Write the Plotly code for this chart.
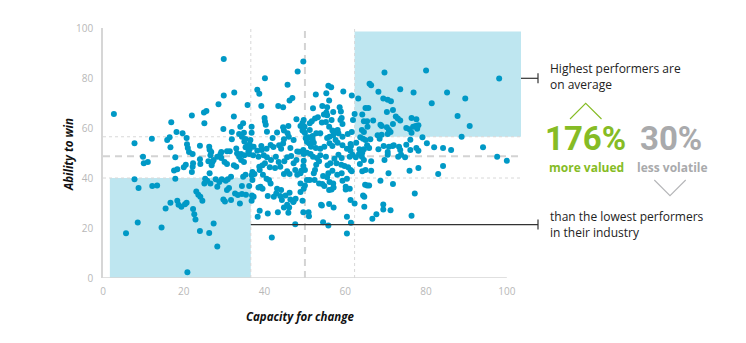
import plotly.graph_objects as go

# (capacity for change, ability to win) per company, grouped by zone of the chart
left_upper = [
    (2.7, 65.6), (7.8, 53.9), (12.1, 55.7), (29.9, 87.6), (29.9, 73.0), (32.5, 74.2), (28.6, 69.5),
    (22.0, 65.0), (25.6, 66.8), (25.0, 66.2), (25.1, 61.9), (16.9, 62.3), (18.2, 58.4), (19.7, 57.9),
    (20.7, 56.0), (15.9, 55.2), (16.5, 56.3), (16.7, 52.3), (20.8, 53.5), (21.0, 52.0), (24.0, 52.9),
    (26.3, 52.5), (26.4, 51.3), (29.8, 59.6), (32.4, 64.6), (35.8, 69.2), (34.0, 60.5), (34.7, 61.9),
    (31.9, 58.4), (33.7, 57.6), (34.9, 58.1), (34.4, 56.5), (35.3, 55.6), (35.0, 54.6), (35.7, 52.8),
    (36.3, 53.5), (36.5, 55.2), (31.9, 55.5), (36.3, 51.5), (35.3, 52.3), (33.0, 51.8),
]

left_lower = [
    (21.3, 50.4), (22.2, 49.6), (26.8, 50.4), (26.6, 49.1), (29.3, 50.4), (30.7, 50.7), (31.4, 50.7),
    (29.1, 49.6), (28.3, 48.5), (29.3, 48.0), (27.4, 47.2), (27.1, 46.4), (26.1, 46.7), (24.0, 47.5),
    (24.1, 45.6), (22.3, 45.9), (22.2, 44.5), (20.0, 44.3), (18.4, 43.5), (17.6, 43.0), (33.2, 49.9),
    (34.2, 49.6), (35.0, 49.1), (36.2, 49.6), (34.2, 47.2), (34.9, 46.4), (33.0, 44.5), (30.1, 46.4),
    (30.7, 45.6), (17.9, 48.3), (36.0, 50.5),
    (5.7, 17.9), (8.6, 22.2), (7.8, 39.5), (8.8, 36.0), (9.9, 48.5), (10.1, 45.9), (11.1, 46.4),
    (12.2, 36.8), (13.4, 37.0), (14.5, 20.2), (15.5, 27.8), (16.7, 30.1), (17.9, 39.7), (18.4, 30.9),
    (18.7, 29.3), (19.4, 28.5), (20.3, 29.5), (20.7, 30.1), (22.3, 27.6), (22.6, 25.5), (22.9, 23.4),
    (23.1, 34.6), (23.6, 33.3), (24.1, 32.5), (24.6, 30.9), (24.0, 18.8), (20.9, 2.3), (26.3, 18.0),
    (27.4, 21.8), (28.3, 12.6), (20.5, 45.3), (22.0, 42.4), (25.3, 39.7), (25.8, 38.9), (25.1, 37.8),
    (26.6, 37.8), (26.4, 41.9), (26.9, 45.1), (27.9, 39.5), (28.3, 36.5), (28.8, 38.4), (29.4, 39.5),
    (30.4, 38.9), (30.9, 39.5), (29.8, 31.4), (30.2, 30.6), (31.7, 31.2), (30.7, 35.2), (31.2, 36.0),
    (33.9, 29.8), (32.7, 33.8), (33.4, 33.2), (34.4, 33.6), (35.4, 33.3), (32.4, 45.1), (33.7, 48.5),
    (31.7, 40.5), (34.7, 40.5), (35.3, 41.3), (34.4, 36.8), (36.2, 36.8),
]

mid_upper = [
    (38.2, 75.3), (38.7, 73.7), (39.2, 68.8), (40.1, 79.9), (40.0, 64.0), (40.1, 62.6), (40.3, 61.3),
    (40.6, 58.5), (43.4, 68.8), (44.6, 68.3), (45.7, 77.3), (46.2, 71.0), (46.9, 72.0), (48.2, 82.6),
    (49.6, 86.6), (44.6, 60.3), (45.9, 60.8), (45.7, 57.9), (47.9, 63.5), (48.9, 60.8), (49.4, 62.0),
    (49.7, 63.2), (50.2, 55.9), (50.5, 54.5), (47.2, 55.2), (46.4, 52.0), (48.6, 50.5), (41.5, 53.2),
    (43.6, 53.1), (39.2, 52.8), (39.3, 51.2), (37.3, 52.5), (36.8, 60.5), (36.8, 58.1), (44.8, 59.0),
    (49.9, 60.5), (49.4, 59.0), (43.1, 58.2), (49.7, 58.7), (40.5, 51.7), (42.2, 52.4), (44.1, 51.7),
    (44.6, 53.8), (44.8, 55.5), (49.6, 51.2), (38.2, 50.9), (48.1, 50.6), (46.0, 56.5), (42.0, 56.0),
]

centre_upper = [
    (52.7, 73.4), (55.3, 73.9), (55.8, 76.9), (56.5, 76.3), (56.0, 71.0), (59.5, 74.6), (61.6, 73.0),
    (52.0, 67.9), (54.3, 68.8), (55.5, 68.3), (58.6, 68.3), (58.9, 66.6), (57.0, 66.4), (54.7, 65.4),
    (55.5, 65.1), (52.5, 63.8), (53.2, 64.3), (51.7, 62.7), (51.2, 61.9), (56.6, 63.2), (58.8, 63.2),
    (59.1, 64.0), (61.9, 63.2), (50.0, 58.0), (61.3, 53.6), (61.4, 52.8), (55.3, 66.2), (59.3, 61.6),
    (54.2, 62.2), (55.2, 62.4), (56.0, 60.5), (56.8, 59.0), (57.6, 58.7), (58.3, 57.9), (58.1, 59.2),
    (51.9, 56.8), (52.8, 57.9), (53.8, 57.9), (50.9, 56.3), (51.2, 59.2), (56.1, 56.5), (57.0, 57.1),
    (59.3, 56.5), (60.6, 57.6), (51.0, 53.9), (51.5, 52.5), (52.2, 54.1), (52.7, 52.0), (53.8, 51.7),
    (54.8, 52.5), (56.1, 53.9), (56.8, 52.8), (57.6, 55.2), (58.1, 54.1), (59.3, 53.1), (60.4, 51.7),
    (51.9, 55.5), (55.5, 56.0), (61.6, 58.4), (62.3, 65.6),
]

right_upper = [
    (69.7, 82.2), (80.0, 83.0), (98.1, 79.8), (66.0, 77.7), (66.4, 77.1), (68.2, 74.5), (73.6, 75.5),
    (76.9, 74.2), (85.2, 74.2), (89.7, 71.8), (81.4, 69.9), (63.2, 71.8), (69.4, 71.8), (70.5, 71.3),
    (71.3, 70.7), (65.0, 68.0), (65.7, 68.0), (70.3, 66.4), (71.8, 67.2), (64.2, 65.4), (72.5, 64.6),
    (73.0, 63.8), (73.6, 63.0), (76.4, 64.0), (77.6, 63.5), (87.8, 64.8), (64.6, 62.7), (65.4, 62.7),
    (66.9, 63.0), (68.7, 61.3), (69.0, 60.8), (65.5, 60.5), (64.1, 59.2), (64.6, 58.4), (70.3, 60.3),
    (70.8, 59.2), (71.2, 58.4), (71.8, 61.6), (75.1, 60.0), (75.9, 59.5), (76.8, 60.5), (77.4, 60.8),
    (78.1, 61.1), (76.4, 58.1), (90.8, 60.8), (88.8, 56.5), (94.1, 52.3), (79.1, 56.3), (80.2, 53.9),
    (82.0, 52.3), (84.2, 52.0), (86.2, 51.2), (68.0, 57.1), (69.0, 57.3), (68.5, 55.7), (64.4, 55.7),
    (65.0, 55.2), (62.7, 54.1), (65.4, 53.1), (65.9, 52.0), (69.5, 52.8), (70.8, 52.5), (71.7, 52.8),
    (73.3, 52.5), (73.6, 51.2), (75.1, 53.3), (76.1, 51.2), (77.6, 52.0), (78.1, 50.9), (70.5, 50.4),
    (63.5, 51.5), (76.1, 55.3), (72.0, 53.1), (66.2, 55.5), (63.7, 56.3), (64.6, 51.5), (68.2, 51.5),
    (70.5, 57.6), (77.8, 59.7),
]

right_lower = [
    (97.6, 48.5), (100.0, 46.9), (75.9, 42.9), (78.1, 44.0), (83.0, 41.6), (84.2, 44.8), (70.7, 41.9),
    (71.8, 37.6), (68.7, 38.9), (77.2, 33.8), (76.4, 24.9), (71.2, 27.1), (69.4, 29.4), (69.4, 27.4),
    (67.7, 25.5), (66.7, 23.7), (64.7, 32.5), (64.4, 33.0), (62.3, 29.8), (61.3, 31.2), (64.7, 28.5),
    (60.4, 24.5), (61.4, 22.1), (60.4, 17.8), (54.5, 22.3), (55.8, 21.0), (54.2, 29.0), (57.1, 28.2),
    (60.1, 36.5), (60.1, 35.4), (61.1, 35.7), (60.4, 39.7), (64.9, 37.3), (65.4, 37.0), (65.9, 37.0),
    (64.2, 42.7), (65.0, 43.2), (66.4, 42.9), (66.4, 46.7), (69.7, 47.2), (70.5, 49.3), (73.1, 48.5),
    (73.8, 49.3), (74.8, 48.3), (61.1, 48.5), (61.8, 49.3), (62.6, 48.3), (63.4, 49.6), (64.1, 48.5),
    (64.2, 50.1), (63.6, 45.6), (64.6, 47.2), (61.3, 43.2), (61.6, 42.7), (59.8, 44.8), (60.7, 44.3),
    (59.1, 41.9), (58.0, 41.3), (56.8, 42.9), (55.8, 41.9), (56.1, 38.4), (55.5, 40.3), (54.5, 40.8),
    (54.3, 37.6), (52.4, 39.2), (51.2, 39.2), (56.0, 35.2), (56.6, 35.4), (57.0, 37.8), (52.2, 41.9),
    (52.5, 43.2), (52.8, 45.3), (53.5, 46.7), (53.0, 48.0), (53.8, 49.1), (50.5, 50.1), (51.4, 49.6),
    (52.0, 48.5), (55.2, 48.5), (55.6, 45.1), (56.3, 45.9), (57.3, 47.7), (58.3, 49.3), (59.1, 48.0),
    (57.8, 45.9), (59.0, 45.3), (49.6, 44.8), (50.0, 43.2), (49.1, 42.9), (53.5, 37.8), (54.8, 36.8),
    (57.1, 36.2), (59.3, 38.9), (54.0, 29.3), (56.0, 29.6), (61.3, 50.9),
]

mid_lower = [
    (38.3, 24.5), (38.8, 26.9), (41.8, 16.2), (43.3, 26.3), (45.9, 26.1), (46.1, 28.2), (47.6, 21.5),
    (49.6, 26.3), (50.9, 26.3), (51.0, 24.7), (39.0, 36.5), (39.5, 35.7), (40.8, 32.8), (42.3, 32.5),
    (42.9, 33.8), (43.9, 32.8), (44.3, 31.2), (45.2, 33.0), (46.4, 31.4), (47.2, 30.6), (47.7, 31.7),
    (48.9, 34.4), (50.0, 37.0), (50.5, 39.2), (41.1, 39.2), (41.5, 37.8), (39.6, 41.3), (40.5, 39.7),
    (36.8, 41.1), (37.5, 41.6), (38.7, 44.5), (39.5, 45.1), (40.1, 45.9), (40.6, 48.3), (41.6, 47.2),
    (42.8, 48.5), (43.5, 46.4), (43.9, 44.5), (44.9, 46.7), (45.6, 42.7), (46.2, 41.6), (47.6, 43.2),
    (48.1, 41.3), (48.9, 41.9), (46.6, 48.8), (47.2, 45.9), (47.9, 47.2), (49.7, 49.6), (36.9, 33.0),
    (37.3, 32.5), (36.8, 30.9), (37.2, 49.1), (38.5, 48.5), (39.8, 49.1), (45.6, 48.3), (49.7, 46.9),
    (37.0, 42.4), (38.8, 43.2), (41.3, 44.3), (42.6, 44.0), (44.8, 41.6), (37.0, 39.2), (38.5, 36.2),
    (43.1, 35.7), (44.1, 35.2), (46.2, 34.1), (49.7, 35.7), (48.9, 37.8), (40.8, 25.8), (44.8, 28.2),
    (45.6, 29.3), (47.1, 30.4), (49.4, 30.9),
]

tick_values = [0, 20, 40, 60, 80, 100]

# Zone thresholds and averages
low_cap, high_cap = 36.6, 62.3
low_win, high_win = 40.0, 56.5
mean_cap, mean_win = 50.0, 48.7
low_box_left = 1.7
top_box_right, top_box_top = 103.5, 98.6
x_max = 104

companies = left_upper + left_lower + mid_upper + centre_upper + right_upper + right_lower + mid_lower
capacity = [c[0] for c in companies]
ability = [c[1] for c in companies]

W, H = 746, 343
M_L, M_R, M_T, M_B = 103, 223, 28, 65
PW = W - M_L - M_R
PH = H - M_T - M_B


def paper_x(px):
    return (px - M_L) / PW


def paper_y(py):
    return (H - M_B - py) / PH


def data_to_px(x):
    return M_L + x / x_max * PW


BLUE = "#0099c6"
BOX = "#bee6f0"
GREEN = "#86bc25"
GREY = "#a9aaac"
TEXT = "#222222"

fig = go.Figure()
fig.add_trace(go.Scatter(
    x=capacity, y=ability, mode="markers",
    marker=dict(size=6, color=BLUE, line=dict(width=0)),
    hoverinfo="skip", showlegend=False,
))

shapes = []
# Highlighted zones
shapes.append(dict(type="rect", xref="x", yref="y", x0=low_box_left, x1=low_cap, y0=0, y1=low_win,
                   fillcolor=BOX, line=dict(width=0), layer="below"))
shapes.append(dict(type="rect", xref="x", yref="y", x0=high_cap, x1=top_box_right, y0=high_win,
                   y1=top_box_top, fillcolor=BOX, line=dict(width=0), layer="below"))
# Dotted threshold lines
for xv in (low_cap, high_cap):
    shapes.append(dict(type="line", xref="x", yref="y", x0=xv, x1=xv, y0=0, y1=100,
                       line=dict(color="#d8d8d8", width=1, dash="dot"), layer="below"))
for yv in (low_win, high_win):
    shapes.append(dict(type="line", xref="x", yref="y", x0=0, x1=top_box_right, y0=yv, y1=yv,
                       line=dict(color="#d8d8d8", width=1, dash="dot"), layer="below"))
# Dashed averages
shapes.append(dict(type="line", xref="x", yref="y", x0=mean_cap, x1=mean_cap, y0=0, y1=100,
                   line=dict(color="#d3d3d3", width=2, dash="7px,5px"), layer="below"))
shapes.append(dict(type="line", xref="x", yref="y", x0=0, x1=top_box_right, y0=mean_win, y1=mean_win,
                   line=dict(color="#d3d3d3", width=2, dash="7px,5px"), layer="below"))
# X baseline
shapes.append(dict(type="line", xref="x", yref="y", x0=0, x1=100, y0=0, y1=0,
                   line=dict(color="#d6d6d6", width=1.5), layer="below"))

# Callout leader lines
lead_end = 538
top_py = 78.3
bot_py = 224.6
shapes.append(dict(type="line", xref="paper", yref="paper",
                   x0=paper_x(data_to_px(top_box_right)), x1=paper_x(lead_end),
                   y0=paper_y(top_py), y1=paper_y(top_py), line=dict(color="#333", width=1.2)))
shapes.append(dict(type="line", xref="paper", yref="paper",
                   x0=paper_x(lead_end), x1=paper_x(lead_end),
                   y0=paper_y(top_py - 5), y1=paper_y(top_py + 5), line=dict(color="#333", width=1.2)))
shapes.append(dict(type="line", xref="paper", yref="paper",
                   x0=paper_x(data_to_px(low_cap)), x1=paper_x(lead_end),
                   y0=paper_y(bot_py), y1=paper_y(bot_py), line=dict(color="#333", width=1.2)))
shapes.append(dict(type="line", xref="paper", yref="paper",
                   x0=paper_x(lead_end), x1=paper_x(lead_end),
                   y0=paper_y(bot_py - 5), y1=paper_y(bot_py + 5), line=dict(color="#333", width=1.2)))

# Chevrons
shapes.append(dict(type="path", xref="paper", yref="paper",
                   path=f"M {paper_x(570)} {paper_y(119)} L {paper_x(585.7)} {paper_y(103.3)} L {paper_x(601.5)} {paper_y(119)}",
                   line=dict(color=GREEN, width=1.1)))
shapes.append(dict(type="path", xref="paper", yref="paper",
                   path=f"M {paper_x(654.3)} {paper_y(180)} L {paper_x(670)} {paper_y(195.7)} L {paper_x(685.7)} {paper_y(180)}",
                   line=dict(color="#b5b6b8", width=1.1)))

annotations = [
    dict(xref="paper", yref="paper", x=paper_x(548), y=paper_y(77), xanchor="left", yanchor="middle",
         text="Highest performers are<br>on average", align="left", showarrow=False,
         font=dict(family="Open Sans", size=12, color=TEXT)),
    dict(xref="paper", yref="paper", x=paper_x(548), y=paper_y(224), xanchor="left", yanchor="middle",
         text="than the lowest performers<br>in their industry", align="left", showarrow=False,
         font=dict(family="Open Sans", size=12, color=TEXT)),
    dict(xref="paper", yref="paper", x=paper_x(585.5), y=paper_y(138.5), xanchor="center", yanchor="middle",
         text="<b>176%</b>", showarrow=False, font=dict(family="Roboto", size=33, color=GREEN)),
    dict(xref="paper", yref="paper", x=paper_x(671), y=paper_y(138.5), xanchor="center", yanchor="middle",
         text="<b>30%</b>", showarrow=False, font=dict(family="Roboto", size=33, color=GREY)),
    dict(xref="paper", yref="paper", x=paper_x(586), y=paper_y(167.5), xanchor="center", yanchor="middle",
         text="<b>more valued</b>", showarrow=False, font=dict(family="Open Sans", size=12, color=GREEN)),
    dict(xref="paper", yref="paper", x=paper_x(672), y=paper_y(167.5), xanchor="center", yanchor="middle",
         text="<b>less volatile</b>", showarrow=False, font=dict(family="Open Sans", size=12, color=GREY)),
    dict(xref="paper", yref="paper", x=paper_x(300), y=paper_y(316), xanchor="center", yanchor="middle",
         text="<b><i>Capacity for change</i></b>", showarrow=False,
         font=dict(family="Open Sans", size=11.5, color="#111")),
    dict(xref="paper", yref="paper", x=paper_x(68), y=paper_y(155), xanchor="center", yanchor="middle",
         text="<b><i>Ability to win</i></b>", textangle=-90, showarrow=False,
         font=dict(family="Open Sans", size=11.5, color="#111")),
]

fig.update_layout(
    width=W, height=H, autosize=False,
    margin=dict(l=M_L, r=M_R, t=M_T, b=M_B, pad=0),
    paper_bgcolor="white", plot_bgcolor="white",
    shapes=shapes, annotations=annotations, showlegend=False,
    xaxis=dict(range=[0, x_max], tickvals=tick_values, ticktext=[str(v) for v in tick_values],
               showgrid=False, zeroline=False, showline=False, ticks="", ticklabelstandoff=6,
               tickfont=dict(family="Open Sans", size=10, color="#b8b8b8"), fixedrange=True),
    yaxis=dict(range=[0, 100], tickvals=tick_values, ticktext=[str(v) for v in tick_values],
               showgrid=False, zeroline=False, showline=True, linecolor="#d6d6d6", linewidth=1.5,
               ticks="", ticklabelstandoff=6,
               tickfont=dict(family="Open Sans", size=10, color="#b8b8b8"), fixedrange=True),
)

fig.write_html("out.html")
